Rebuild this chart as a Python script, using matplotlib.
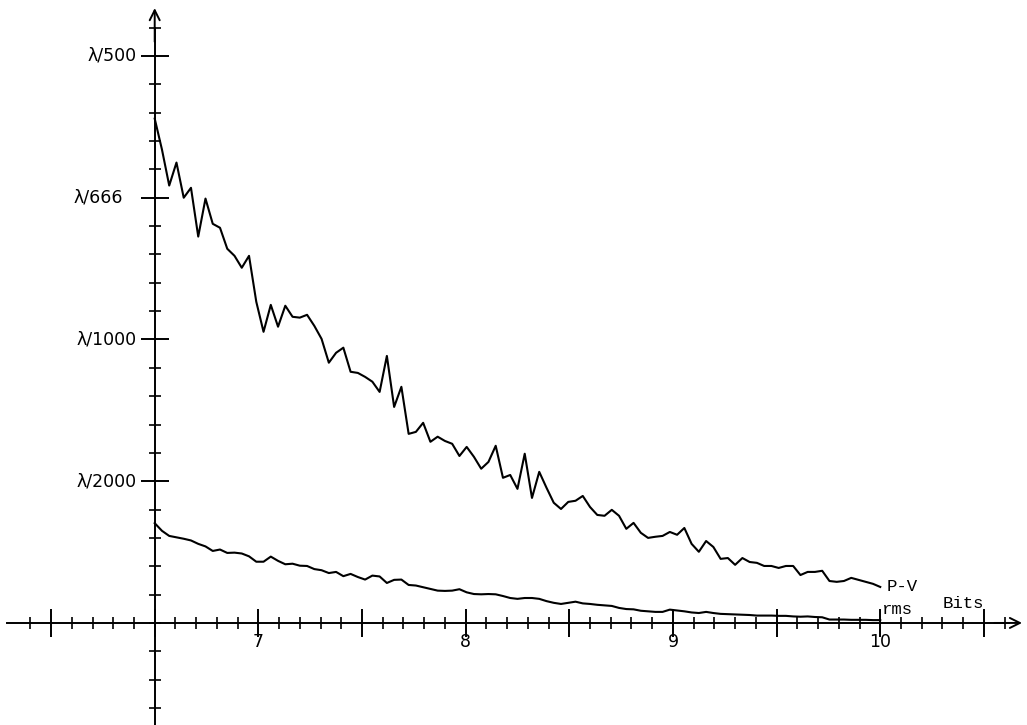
import numpy as np
import matplotlib
matplotlib.use("Agg")
import matplotlib.pyplot as plt
from matplotlib.ticker import FixedLocator, NullFormatter, FuncFormatter

# sample positions (bits) and wavefront error in units of 1e-3 wavelength
bits = np.linspace(6.5, 10.0, 101)

pv = [1.779, 1.670, 1.543, 1.624, 1.500, 1.535, 1.363, 1.497, 1.408, 1.394,
      1.320, 1.295, 1.253, 1.295, 1.133, 1.027, 1.122, 1.045, 1.119, 1.080,
      1.077, 1.087, 1.048, 1.002, 0.918, 0.953, 0.971, 0.886, 0.882, 0.868,
      0.851, 0.815, 0.942, 0.762, 0.833, 0.667, 0.674, 0.706, 0.639, 0.657,
      0.642, 0.632, 0.589, 0.621, 0.586, 0.544, 0.568, 0.625, 0.512, 0.522,
      0.473, 0.597, 0.441, 0.533, 0.477, 0.424, 0.402, 0.427, 0.431, 0.448,
      0.409, 0.381, 0.378, 0.399, 0.378, 0.332, 0.353, 0.318, 0.300, 0.304,
      0.307, 0.321, 0.311, 0.335, 0.279, 0.251, 0.289, 0.268, 0.226, 0.229,
      0.205, 0.229, 0.215, 0.212, 0.201, 0.201, 0.194, 0.201, 0.201, 0.169,
      0.180, 0.180, 0.184, 0.148, 0.145, 0.148, 0.159, 0.152, 0.145, 0.138,
      0.127]

rms = [0.352, 0.325, 0.307, 0.302, 0.297, 0.291, 0.279, 0.270, 0.254, 0.259,
       0.247, 0.248, 0.245, 0.235, 0.216, 0.216, 0.234, 0.219, 0.207, 0.209,
       0.202, 0.201, 0.190, 0.186, 0.176, 0.180, 0.165, 0.173, 0.162, 0.153,
       0.167, 0.164, 0.141, 0.152, 0.153, 0.134, 0.132, 0.126, 0.120, 0.114,
       0.113, 0.114, 0.119, 0.108, 0.102, 0.101, 0.102, 0.101, 0.095, 0.088,
       0.085, 0.088, 0.088, 0.085, 0.077, 0.071, 0.067, 0.071, 0.075, 0.069,
       0.067, 0.064, 0.062, 0.060, 0.053, 0.049, 0.048, 0.043, 0.041, 0.039,
       0.039, 0.047, 0.044, 0.041, 0.037, 0.035, 0.039, 0.035, 0.032, 0.031,
       0.030, 0.029, 0.028, 0.026, 0.026, 0.026, 0.025, 0.025, 0.023, 0.022,
       0.023, 0.021, 0.020, 0.012, 0.012, 0.012, 0.011, 0.011, 0.011, 0.010,
       0.010]

x_labels = [7, 8, 9, 10]
y_ticks = [0.5, 1.0, 1.5, 2.0]
y_labels = ['λ/2000', 'λ/1000', 'λ/666', 'λ/500']

fig = plt.figure(figsize=(10.27, 7.25), dpi=100)
ax = fig.add_axes([0, 0, 1, 1])
ax.set_xlim(5.7537, 10.708)
ax.set_ylim(-0.360, 2.1975)

ax.plot(bits, pv, color='black', lw=1.5)
ax.plot(bits, rms, color='black', lw=1.5)

# axes through the origin (6.5, 0)
for s in ['top', 'right']:
    ax.spines[s].set_visible(False)
ax.spines['left'].set_position(('data', 6.5))
ax.spines['bottom'].set_position(('data', 0))
ax.spines['left'].set_bounds(-0.36, 2.10)
ax.spines['bottom'].set_bounds(5.787, 10.62)
for s in ['left', 'bottom']:
    ax.spines[s].set_linewidth(1.4)

ax.annotate('', xy=(10.684, 0), xytext=(10.55, 0),
            arrowprops=dict(arrowstyle='->', lw=1.4, color='black',
                            shrinkA=0, shrinkB=0, mutation_scale=18))
ax.annotate('', xy=(6.5, 2.169), xytext=(6.5, 2.05),
            arrowprops=dict(arrowstyle='->', lw=1.4, color='black',
                            shrinkA=0, shrinkB=0, mutation_scale=18))

ax.xaxis.set_major_locator(FixedLocator(np.arange(6.0, 10.51, 0.5)))
ax.xaxis.set_minor_locator(FixedLocator(np.arange(5.9, 10.61, 0.1)))
ax.xaxis.set_major_formatter(FuncFormatter(
    lambda v, p: str(int(round(v))) if round(v) in x_labels and abs(v - round(v)) < 1e-6 else ''))
ax.yaxis.set_major_locator(FixedLocator(y_ticks))
ax.yaxis.set_minor_locator(FixedLocator(np.arange(-0.3, 2.11, 0.1)))
ax.yaxis.set_major_formatter(NullFormatter())

ax.tick_params(which='major', direction='inout', length=20, width=1.4, color='black')
ax.tick_params(which='minor', direction='inout', length=9, width=1.2, color='black')
ax.tick_params(axis='x', which='major', labelsize=12.5, pad=-3)

for yv, lab in zip(y_ticks, y_labels):
    xo = 6.346 if lab == 'λ/666' else 6.413
    ax.text(xo, yv, lab, ha='right', va='center', fontsize=12.5)

mono = dict(family='Liberation Mono', fontsize=12.5)
ax.text(10.03, 0.13, 'P-V', ha='left', va='center', **mono)
ax.text(10.01, 0.046, 'rms', ha='left', va='center', **mono)
ax.text(10.302, 0.067, 'Bits', ha='left', va='center', **mono)

fig.savefig('out.png', dpi=100)
